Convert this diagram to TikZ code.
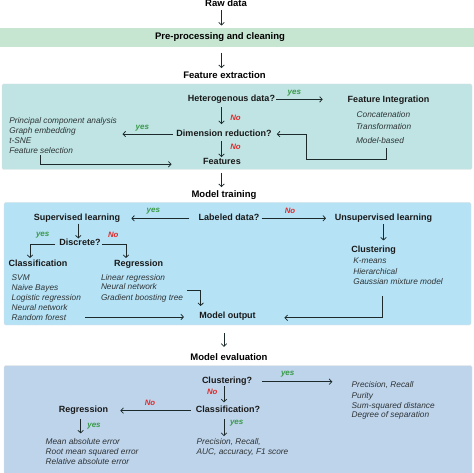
\documentclass[tikz,border=0pt]{standalone}
\usepackage{fontspec}
\setmainfont{Liberation Sans}
\usetikzlibrary{arrows.meta}
\definecolor{bandgreen}{HTML}{C6E6D2}
\definecolor{boxteal}{HTML}{BFE4E3}
\definecolor{boxblue}{HTML}{B6E2F5}
\definecolor{boxeval}{HTML}{BED4EB}
\definecolor{yescol}{HTML}{3A9A4A}
\definecolor{nocol}{HTML}{E02A2A}
\definecolor{linecol}{HTML}{1C2A2C}
\definecolor{itcol}{HTML}{2E3436}
\tikzset{
  every node/.style={inner sep=0pt, outer sep=0pt},
  ttl/.style={font=\fontsize{9.5}{11}\selectfont\bfseries, text=black, anchor=base},
  hd/.style={font=\fontsize{9}{11}\selectfont\bfseries, text=black!90, anchor=base},
  itm/.style={font=\fontsize{8.3}{10}\selectfont\itshape, text=itcol, anchor=base west},
  yeslbl/.style={font=\fontsize{8}{9}\selectfont\bfseries\itshape, text=yescol},
  nolbl/.style={font=\fontsize{7.8}{9}\selectfont\bfseries\itshape, text=nocol},
  arr/.style={draw=linecol, line width=0.75pt, -{Straight Barb[length=2.6pt,width=5.5pt]}},
  panel/.style={draw=black!12, line width=0.4pt, rounded corners=1.5pt},
}
\begin{document}
\begin{tikzpicture}[x=1pt,y=-1pt]
\useasboundingbox (0,0) rectangle (474,473);
% panels
\fill[bandgreen] (0,28) rectangle (474,47.5);
\node[minimum width=474pt, minimum height=19.5pt] (band) at (237,37.75) {};
\fill[boxteal, panel] (2,84) rectangle (472,169.5);
\fill[boxblue, panel] (4,202.5) rectangle (471,325);
\fill[boxeval, panel] (4,365.5) rectangle (472,476);
\coordinate (spine) at (221.5,0);
\coordinate (espine) at (224,0);

% stage titles
\node[ttl] (raw) at (226,7) {Raw data};
\node[ttl] (pre) at (220,39.5) {Pre-processing and cleaning};
\node[ttl] (fext) at (224.5,78.5) {Feature extraction};
\node[ttl] (mtrain) at (224,197.3) {Model training};
\node[ttl] (meval) at (229,360.7) {Model evaluation};

% feature extraction panel
\node[hd] (het) at (231.5,101.7) {Heterogenous data?};
\node[hd] (fi) at (388.5,102.5) {Feature Integration};
\node[itm] (conc) at (356.7,118) {Concatenation};
\node[itm] (trans) at (356,130) {Transformation};
\node[itm] (mb) at (356,143.3) {Model-based};
\node[hd] (dr) at (224,136.3) {Dimension reduction?};
\node[itm] (pca) at (9.3,123.3) {Principal component analysis};
\node[itm] (ge) at (9.3,133.5) {Graph embedding};
\node[itm] (tsne) at (9.3,143.5) {t-SNE};
\node[itm] (fs) at (9.3,153.7) {Feature selection};
\node[hd] (feat) at (222,164.3) {Features};
\node[yeslbl] (y1) at (294.3,93.3) {yes};
\node[nolbl] (n1) at (235.5,117.5) {No};
\node[yeslbl] (y2) at (142.3,128) {yes};
\node[nolbl] (n2) at (235.5,146.7) {No};

% model training panel
\node[hd] (lab) at (229,220.5) {Labeled data?};
\node[hd] (sup) at (77,220.5) {Supervised learning};
\node[hd] (unsup) at (383.5,220.5) {Unsupervised learning};
\node[hd] (disc) at (80,246) {Discrete?};
\node[hd] (classif) at (38,266.5) {Classification};
\node[hd] (regr) at (138.7,266.5) {Regression};
\node[hd] (clust) at (373.7,253) {Clustering};
\node[itm] (svm) at (11.7,280) {SVM};
\node[itm] (nb) at (11.7,290.2) {Naive Bayes};
\node[itm] (lr) at (11.7,300.3) {Logistic regression};
\node[itm] (nn1) at (11.7,310.3) {Neural network};
\node[itm] (rf) at (11.7,320.3) {Random forest};
\node[itm] (linr) at (101,280) {Linear regression};
\node[itm] (nn2) at (101,290) {Neural network};
\node[itm] (gbt) at (101,300) {Gradient boosting tree};
\node[itm] (km) at (353.3,264) {K-means};
\node[itm] (hier) at (353.3,274.3) {Hierarchical};
\node[itm] (gmm) at (353.3,284.3) {Gaussian mixture model};
\node[hd] (mout) at (227.5,318.8) {Model output};
\node[yeslbl] (y3) at (153.3,210.7) {yes};
\node[nolbl] (n3) at (290,210.7) {No};
\node[yeslbl] (y4) at (42.7,235.3) {yes};
\node[nolbl] (n4) at (113.3,235.3) {No};

% model evaluation panel
\node[hd] (clq) at (227,383) {Clustering?};
\node[hd] (clsq) at (228,412.8) {Classification?};
\node[hd] (eregr) at (83.5,412.8) {Regression};
\node[itm] (pr) at (351.7,387.7) {Precision, Recall};
\node[itm] (pur) at (351.7,398) {Purity};
\node[itm] (ssd) at (351.7,408) {Sum-squared distance};
\node[itm] (dos) at (351.7,417.7) {Degree of separation};
\node[itm] (mae) at (45.7,444) {Mean absolute error};
\node[itm] (rmse) at (45.7,454.3) {Root mean squared error};
\node[itm] (rae) at (45.7,464.3) {Relative absolute error};
\node[itm] (prc) at (196.7,444.3) {Precision, Recall,};
\node[itm] (auc) at (196.7,454.3) {AUC, accuracy, F1 score};
\node[yeslbl] (y5) at (287.7,374.3) {yes};
\node[nolbl] (n5) at (212.3,391.7) {No};
\node[nolbl] (n6) at (150,403.3) {No};
\node[yeslbl] (y6) at (94,425.7) {yes};
\node[yeslbl] (y7) at (236.7,423.3) {yes};

% spine connectors
\draw[arr, shorten <=3pt, shorten >=2.5pt] (raw.south -| spine) -- (band.north -| spine);
\draw[arr, shorten <=5.5pt, shorten >=3.5pt] (band.south -| spine) -- (fext.north -| spine);
\draw[arr, shorten <=9pt, shorten >=3.3pt] (feat.south -| spine) -- (mtrain.north -| spine);
\draw[arr, shorten <=12.5pt, shorten >=7pt] (mout.south -| espine) -- (meval.north -| espine);

% feature extraction connectors
\draw[arr, shorten <=1pt, shorten >=25pt] (het.east) -- (het.east -| fi.west);
\draw[arr, shorten <=3.4pt, shorten >=5.7pt] (het.south -| spine) -- (dr.north -| spine);
\draw[arr, shorten <=3.3pt] ([yshift=-1pt]dr.west) -- ([xshift=5.7pt,yshift=-1pt]dr.west -| pca.east);
\draw[arr, shorten <=4.7pt, shorten >=1pt] (dr.south -| spine) -- (feat.north -| spine);
\draw[arr] ([xshift=30.7pt,yshift=-1.5pt]fs.base west) |- ([xshift=-31.7pt]feat.base west);
\draw[arr] ([xshift=30.7pt,yshift=-5pt]mb.base west) -- ++(0,-11pt) -| ([xshift=35.3pt,yshift=-1pt]dr.east) -- ([xshift=5.3pt,yshift=-1pt]dr.east);

% model training connectors
\draw[arr, shorten <=9.3pt] ([yshift=-1pt]lab.west) -- ([xshift=11.3pt,yshift=-1pt]lab.west -| sup.east);
\draw[arr, shorten <=2.3pt, shorten >=9pt] ([yshift=-1pt]lab.east) -- ([yshift=-1pt]lab.east -| unsup.west);
\draw[arr, shorten <=1.1pt, shorten >=1pt] ([xshift=1.3pt]sup.south) -- ([xshift=1.3pt]sup.south |- disc.north);
\draw[arr, shorten <=4.3pt, shorten >=2pt] ([yshift=-1.5pt]disc.west) -| ([xshift=-8pt]classif.north);
\draw[arr, shorten <=1.7pt, shorten >=2pt] ([yshift=-1.5pt]disc.east) -| ([xshift=-12.7pt]regr.north);
\draw[arr, shorten <=2pt, shorten >=6pt] (unsup.south) -- (unsup.south |- clust.north);
\draw[arr, shorten >=6.3pt] ([xshift=3.7pt,yshift=9.3pt]gbt.base east) -| ([xshift=-26.8pt]mout.north);
\coordinate (rfs) at ([xshift=19pt,yshift=3.3pt]rf.base east);
\draw[arr] (rfs) -- ([xshift=-15.3pt]rfs -| mout.west);
\draw[arr] ([xshift=29.4pt,yshift=-11.7pt]gmm.base west) |- ([xshift=28.7pt,yshift=1pt]mout.base east);

% model evaluation connectors
\draw[arr, shorten <=10pt, shorten >=19.4pt] ([yshift=-1pt]clq.east) -- ([yshift=-1pt]clq.east -| pr.west);
\draw[arr, shorten <=1.4pt, shorten >=4pt] (clq.south -| espine) -- (clsq.north -| espine);
\draw[arr, shorten <=5.3pt] ([yshift=-1pt]clsq.west) -- ([xshift=12.3pt,yshift=-1pt]clsq.west -| eregr.east);
\draw[arr, shorten <=4pt, shorten >=4.6pt] ([xshift=-2.8pt]eregr.south) -- ([xshift=-2.8pt]eregr.south |- mae.north);
\draw[arr, shorten <=6pt, shorten >=2.2pt] (clsq.south -| espine) -- (prc.north -| espine);
\end{tikzpicture}
\end{document}
